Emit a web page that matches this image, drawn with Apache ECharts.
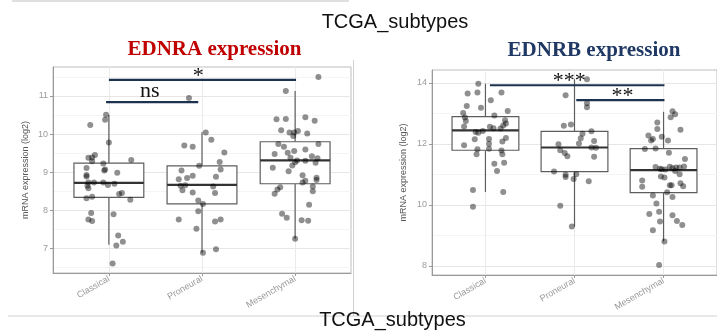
<!DOCTYPE html>
<html>
<head>
<meta charset="utf-8">
<script src="https://cdn.jsdelivr.net/npm/echarts@6/dist/echarts.min.js"></script>
<style>
  html, body { margin: 0; padding: 0; background: #fff; }
  #chart { width: 717px; height: 332px; }
</style>
</head>
<body>
<div id="chart"></div>
<script>
// Two ggplot-style box + jitter panels (EDNRA / EDNRB by TCGA subtype)
const subtypes = ['Classical', 'Proneural', 'Mesenchymal'];

const ednraRange = [6.36, 11.76];
const ednraTicks = [7, 8, 9, 10, 11];
const ednraMinorTicks = [6.5, 7.5, 8.5, 9.5, 10.5, 11.5];
const ednrbRange = [7.70, 14.42];
const ednrbTicks = [8, 10, 12, 14];
const ednrbMinorTicks = [9, 11, 13];

// [subtype position, lower whisker, Q1, median, Q3, upper whisker]
const ednraBoxes = [
  [1, 7.10, 8.34, 8.72, 9.24, 10.50],
  [2, 6.89, 8.17, 8.67, 9.17, 10.05],
  [3, 7.26, 8.70, 9.31, 9.80, 11.13]
];
const ednrbBoxes = [
  [1, 10.42, 11.79, 12.44, 12.89, 13.97],
  [2, 9.29, 11.09, 11.88, 12.41, 14.12],
  [3, 8.80, 10.40, 11.14, 11.84, 13.05]
];

// points: [jitter offset, value]
const ednraClassical = [
  [-0.03, 10.51], [-0.04, 10.38], [-0.20, 10.24], [0.00, 9.78], [-0.15, 9.45], [-0.18, 9.39],
  [-0.22, 9.38], [-0.18, 9.29], [0.24, 9.32], [-0.06, 9.23], [-0.24, 9.11], [-0.04, 9.07],
  [-0.05, 9.05], [0.09, 8.99], [-0.24, 8.93], [-0.24, 8.89], [-0.22, 8.73], [-0.16, 8.73],
  [-0.06, 8.73], [-0.01, 8.67], [0.06, 8.70], [-0.22, 8.58], [-0.23, 8.65], [0.11, 8.43],
  [0.14, 8.46], [-0.24, 8.32], [-0.18, 8.36], [0.23, 8.28], [-0.19, 7.93], [0.05, 7.90],
  [-0.22, 7.76], [-0.18, 7.72], [0.10, 7.34], [0.15, 7.18], [0.08, 7.08], [0.04, 6.61]
];
const ednraProneural = [
  [-0.14, 10.95], [0.04, 10.04], [0.10, 9.85], [-0.19, 9.70], [-0.10, 9.67], [0.24, 9.52],
  [0.19, 9.27], [-0.03, 9.17], [-0.22, 9.05], [0.20, 9.07], [-0.10, 8.91], [-0.16, 8.85],
  [-0.25, 8.82], [0.15, 8.88], [-0.23, 8.65], [-0.18, 8.66], [0.12, 8.63], [-0.21, 8.53],
  [-0.10, 8.47], [0.14, 8.46], [-0.04, 8.26], [0.01, 8.17], [-0.04, 7.98], [-0.25, 7.76],
  [0.14, 7.71], [0.20, 7.76], [-0.06, 7.52], [0.15, 6.98], [0.01, 6.89]
];
const ednraMesenchymal = [
  [0.25, 11.50], [-0.10, 11.13], [-0.20, 10.39], [-0.10, 10.40], [0.11, 10.44], [0.21, 10.35],
  [-0.15, 10.10], [-0.06, 10.04], [-0.01, 10.04], [0.03, 10.08], [-0.02, 9.95], [0.13, 10.02],
  [-0.18, 9.74], [-0.12, 9.67], [0.25, 9.74], [-0.01, 9.56], [0.11, 9.60], [-0.22, 9.48],
  [-0.08, 9.51], [-0.05, 9.38], [0.18, 9.42], [0.24, 9.37], [0.22, 9.25], [0.02, 9.31],
  [0.00, 9.26], [-0.03, 9.18], [0.11, 9.30], [-0.24, 9.12], [-0.07, 9.03], [0.08, 8.92],
  [0.11, 8.78], [0.08, 8.73], [0.23, 8.86], [0.23, 8.80], [0.19, 8.63], [0.19, 8.50],
  [-0.16, 8.61], [-0.19, 8.55], [-0.22, 8.44], [0.15, 8.15], [-0.14, 7.91], [-0.09, 7.81],
  [0.07, 7.74], [0.14, 7.73], [0.00, 7.26]
];
const ednrbClassical = [
  [-0.08, 13.97], [-0.20, 13.65], [-0.09, 13.68], [0.18, 13.68], [0.06, 13.43], [-0.21, 13.24],
  [-0.05, 13.18], [-0.25, 13.01], [0.25, 13.08], [-0.23, 12.86], [0.10, 12.93], [-0.22, 12.75],
  [0.22, 12.77], [0.23, 12.67], [0.20, 12.60], [-0.24, 12.57], [0.05, 12.56], [0.09, 12.51],
  [0.17, 12.50], [-0.03, 12.42], [-0.11, 12.39], [-0.08, 12.36], [-0.12, 12.15], [0.04, 12.16],
  [0.23, 12.19], [0.19, 12.08], [-0.24, 11.95], [0.04, 12.00], [0.04, 11.84], [-0.09, 11.82],
  [0.18, 11.78], [0.19, 11.66], [-0.10, 11.66], [0.10, 11.35], [0.21, 11.38], [0.13, 11.11],
  [-0.14, 10.49], [0.20, 10.42], [-0.14, 9.94]
];
const ednrbProneural = [
  [0.14, 14.12], [-0.10, 13.59], [0.14, 13.33], [0.14, 13.20], [-0.12, 12.59], [-0.04, 12.63],
  [0.19, 12.41], [0.09, 12.33], [0.07, 12.18], [0.22, 12.09], [-0.18, 11.99], [0.05, 12.01],
  [0.19, 11.88], [0.24, 11.87], [-0.16, 11.79], [-0.11, 11.70], [-0.08, 11.59], [0.22, 11.58],
  [-0.23, 11.09], [-0.10, 10.99], [-0.10, 10.91], [0.02, 11.00], [-0.01, 10.85], [0.16, 10.77],
  [-0.16, 9.97], [-0.03, 9.29]
];
const ednrbMesenchymal = [
  [0.10, 13.07], [0.13, 12.97], [0.08, 12.87], [-0.07, 12.70], [0.19, 12.46], [-0.07, 12.49],
  [-0.17, 12.27], [-0.12, 12.16], [-0.14, 12.11], [-0.02, 12.23], [0.05, 12.11], [-0.21, 11.83],
  [-0.09, 11.85], [0.06, 11.71], [0.24, 11.50], [0.23, 11.26], [-0.09, 11.24], [-0.04, 11.18],
  [-0.02, 11.17], [0.02, 11.16], [0.07, 11.25], [0.10, 11.20], [0.14, 11.22], [0.18, 11.22],
  [0.13, 11.11], [0.18, 11.00], [-0.03, 10.93], [0.01, 10.90], [-0.24, 10.80], [0.19, 10.71],
  [-0.24, 10.59], [0.07, 10.64], [0.09, 10.64], [0.22, 10.61], [0.04, 10.41], [-0.12, 10.31],
  [0.10, 10.26], [-0.08, 10.04], [-0.16, 9.70], [-0.05, 9.77], [0.10, 9.66], [-0.04, 9.45],
  [0.15, 9.47], [0.21, 9.34], [-0.12, 9.17], [0.01, 8.80], [-0.05, 8.03]
];

// significance brackets: [from, to, y, label position]
const ednraSig = [[0.97, 1.96, 10.84, 1.44], [1.00, 3.01, 11.42, 1.96]];
const ednraSigLabels = ['ns', '*'];
const ednrbSig = [[1.05, 3.01, 13.92, 1.94], [2.02, 3.01, 13.43, 2.54]];
const ednrbSigLabels = ['***', '**'];

const BOX_WIDTH = 0.75;
const SANS = '"Liberation Sans", Arial, sans-serif';
const SERIF = '"Liberation Serif", "Times New Roman", serif';

function jittered(groups) {
  const out = [];
  groups.forEach((pts, i) => pts.forEach(([j, v]) => out.push([i + 1 + j, v])));
  return out;
}

function renderBox(params, api) {
  const x = api.value(0);
  const lo = api.value(1), q1 = api.value(2), med = api.value(3), q3 = api.value(4), hi = api.value(5);
  const h = BOX_WIDTH / 2;
  const tl = api.coord([x - h, q3]);
  const br = api.coord([x + h, q1]);
  const mL = api.coord([x - h, med]);
  const mR = api.coord([x + h, med]);
  const pHi = api.coord([x, hi]), pQ3 = api.coord([x, q3]);
  const pQ1 = api.coord([x, q1]), pLo = api.coord([x, lo]);
  const stroke = { stroke: '#5e5e5e', lineWidth: 1.2 };
  return {
    type: 'group',
    children: [
      { type: 'line', shape: { x1: pHi[0], y1: pHi[1], x2: pQ3[0], y2: pQ3[1] }, style: stroke },
      { type: 'line', shape: { x1: pQ1[0], y1: pQ1[1], x2: pLo[0], y2: pLo[1] }, style: stroke },
      { type: 'rect', shape: { x: tl[0], y: tl[1], width: br[0] - tl[0], height: br[1] - tl[1] },
        style: { fill: '#fff', stroke: '#5e5e5e', lineWidth: 1.2 } },
      { type: 'line', shape: { x1: mL[0], y1: mL[1], x2: mR[0], y2: mR[1] },
        style: { stroke: '#333', lineWidth: 2.2 } }
    ]
  };
}

function sigRenderer(labels) {
  return function (params, api) {
    const a = api.coord([api.value(0), api.value(2)]);
    const b = api.coord([api.value(1), api.value(2)]);
    const t = api.coord([api.value(3), api.value(2)]);
    const label = labels[params.dataIndex];
    const dy = label === 'ns' ? -11 : -4;
    return {
      type: 'group',
      children: [
        { type: 'line', shape: { x1: a[0], y1: a[1], x2: b[0], y2: b[1] },
          style: { stroke: '#1c3350', lineWidth: 2.2 } },
        { type: 'text', x: t[0], y: t[1] + dy,
          style: { text: label, font: '22px ' + SERIF, fill: '#111',
                   align: 'center', verticalAlign: 'middle',
                   textAlign: 'center', textVerticalAlign: 'middle' } }
      ]
    };
  };
}

function xAxisFor(gridIndex) {
  return {
    type: 'value', gridIndex, min: 0.4, max: 3.6,
    axisLine: { show: true, lineStyle: { color: '#9a9a9a', width: 1 } },
    axisTick: { show: true, length: 3, customValues: [1, 2, 3], lineStyle: { color: '#9a9a9a' } },
    axisLabel: {
      customValues: [1, 2, 3], rotate: 30, margin: 5,
      formatter: v => subtypes[Math.round(v) - 1],
      color: '#9a9a9a', fontSize: 9, fontFamily: SANS
    },
    splitLine: { show: true, lineStyle: { color: '#ebebeb', width: 1 } }
  };
}

function yAxisFor(gridIndex, range, ticks, gap) {
  return {
    type: 'value', gridIndex, min: range[0], max: range[1],
    name: 'mRNA expression (log2)', nameLocation: 'middle', nameGap: gap,
    nameTextStyle: { color: '#555', fontSize: 9, fontFamily: SANS },
    axisLine: { show: true, lineStyle: { color: '#9a9a9a', width: 1 } },
    axisTick: { show: true, length: 3, customValues: ticks, lineStyle: { color: '#9a9a9a' } },
    axisLabel: { customValues: ticks, margin: 5, color: '#9a9a9a', fontSize: 9, fontFamily: SANS },
    splitLine: { show: true, lineStyle: { color: '#e6e6e6', width: 1 } }
  };
}

function minorAxisFor(gridIndex, range, ticks) {
  return {
    type: 'value', gridIndex, min: range[0], max: range[1],
    axisLine: { show: false },
    axisTick: { show: false, customValues: ticks },
    axisLabel: { show: false, customValues: ticks },
    splitLine: { show: true, lineStyle: { color: '#f4f4f4', width: 1 } }
  };
}

const chart = echarts.init(document.getElementById('chart'), null, { renderer: 'canvas' });

chart.setOption({
  backgroundColor: '#fff',
  animation: false,
  grid: [
    { left: 53, top: 67, width: 298, height: 206, show: true, borderColor: '#bdbdbd', borderWidth: 1 },
    { left: 432, top: 70, width: 298, height: 205, show: true, borderColor: '#bdbdbd', borderWidth: 1 }
  ],
  xAxis: [xAxisFor(0), xAxisFor(1)],
  yAxis: [
    yAxisFor(0, ednraRange, ednraTicks, 23),
    minorAxisFor(0, ednraRange, ednraMinorTicks),
    yAxisFor(1, ednrbRange, ednrbTicks, 24),
    minorAxisFor(1, ednrbRange, ednrbMinorTicks)
  ],
  graphic: [
    { type: 'line', shape: { x1: 12, y1: 1, x2: 349, y2: 1 }, style: { stroke: '#d6d6d6', lineWidth: 1.5 } },
    { type: 'line', shape: { x1: 353.5, y1: 60, x2: 353.5, y2: 316 }, style: { stroke: '#d0d0d0', lineWidth: 1 } },
    { type: 'line', shape: { x1: 8, y1: 316, x2: 717, y2: 316 }, style: { stroke: '#d0d0d0', lineWidth: 1 } },
    { type: 'text', x: 395, y: 22.4, z: 10,
      style: { text: 'TCGA_subtypes', font: '20px ' + SANS, fill: '#111',
               align: 'center', verticalAlign: 'middle', textAlign: 'center', textVerticalAlign: 'middle' } },
    { type: 'text', x: 392.5, y: 320.4, z: 10,
      style: { text: 'TCGA_subtypes', font: '20px ' + SANS, fill: '#111',
               align: 'center', verticalAlign: 'middle', textAlign: 'center', textVerticalAlign: 'middle' } },
    { type: 'text', x: 214.5, y: 50, z: 10,
      style: { text: 'EDNRA expression', font: 'bold 21px ' + SERIF, fill: '#c00000',
               align: 'center', verticalAlign: 'middle', textAlign: 'center', textVerticalAlign: 'middle' } },
    { type: 'text', x: 594, y: 51, z: 10,
      style: { text: 'EDNRB expression', font: 'bold 21px ' + SERIF, fill: '#1f3864',
               align: 'center', verticalAlign: 'middle', textAlign: 'center', textVerticalAlign: 'middle' } }
  ],
  series: [
    { type: 'custom', xAxisIndex: 0, yAxisIndex: 0, z: 2, renderItem: renderBox,
      encode: { x: 0, y: [1, 2, 3, 4, 5] }, data: ednraBoxes },
    { type: 'custom', xAxisIndex: 1, yAxisIndex: 2, z: 2, renderItem: renderBox,
      encode: { x: 0, y: [1, 2, 3, 4, 5] }, data: ednrbBoxes },
    { type: 'scatter', xAxisIndex: 0, yAxisIndex: 0, z: 3, symbolSize: 6,
      itemStyle: { color: 'rgba(0,0,0,0.55)' },
      data: jittered([ednraClassical, ednraProneural, ednraMesenchymal]) },
    { type: 'scatter', xAxisIndex: 1, yAxisIndex: 2, z: 3, symbolSize: 6,
      itemStyle: { color: 'rgba(0,0,0,0.55)' },
      data: jittered([ednrbClassical, ednrbProneural, ednrbMesenchymal]) },
    { type: 'custom', xAxisIndex: 0, yAxisIndex: 0, z: 4, clip: false,
      renderItem: sigRenderer(ednraSigLabels), encode: { x: [0, 1, 3], y: 2 }, data: ednraSig },
    { type: 'custom', xAxisIndex: 1, yAxisIndex: 2, z: 4, clip: false,
      renderItem: sigRenderer(ednrbSigLabels), encode: { x: [0, 1, 3], y: 2 }, data: ednrbSig }
  ]
});
</script>
</body>
</html>
